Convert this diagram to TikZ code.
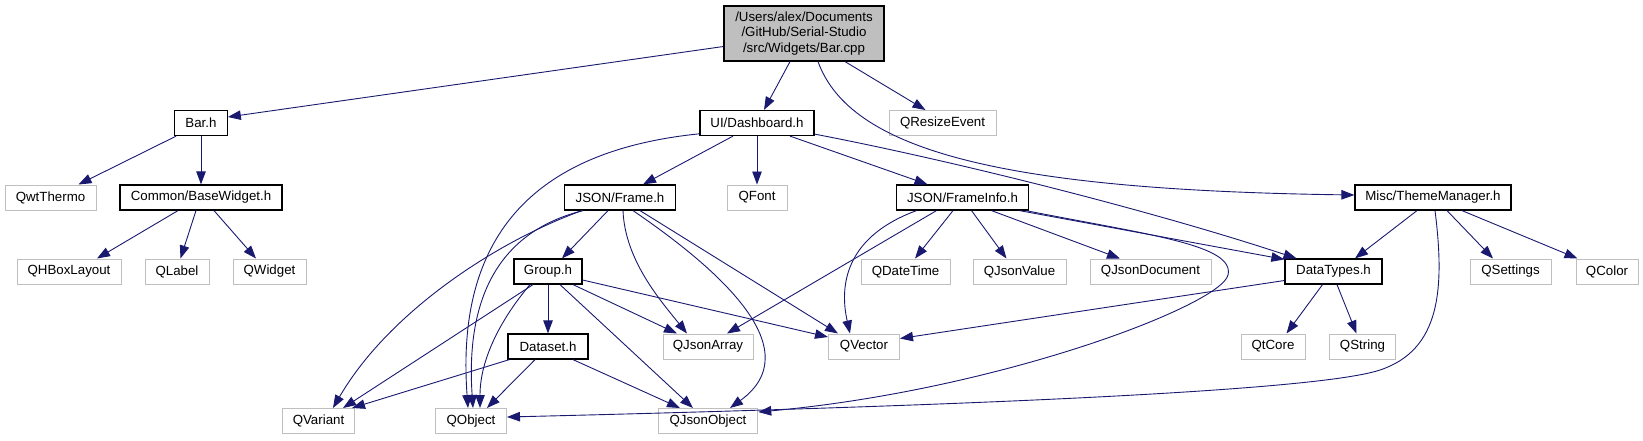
\documentclass[tikz,border=0pt]{standalone}
\usepackage{fontspec}
\setmainfont{Liberation Sans}
\usetikzlibrary{arrows.meta}
\definecolor{edgecol}{HTML}{191970}
\definecolor{grayb}{HTML}{BFBFBF}
\begin{document}
\begin{tikzpicture}[x=1pt,y=-1pt,
  every node/.style={font=\fontsize{13.3}{15.5}\selectfont, inner sep=0pt, minimum height=25pt, fill=white},
  blk/.style={draw=black, line width=1.2pt},
  gry/.style={draw=grayb, line width=1pt},
  mainbox/.style={draw=black, line width=1.2pt, fill=grayb, align=center, minimum height=55pt},
  edge/.style={draw=edgecol, line width=0.9pt, -{Triangle[length=13pt,width=9.5pt]}}]
\useasboundingbox (0,0) rectangle (1643,440);
% row 0
\node[mainbox, minimum width=160pt] (main) at (804,33.5) {/Users/alex/Documents\\/GitHub/Serial-Studio\\/src/Widgets/Bar.cpp};
% row 1
\node[blk, minimum width=52.5pt] (barh) at (201,123) {Bar.h};
\node[blk, minimum width=114pt] (dash) at (757,123) {UI/Dashboard.h};
\node[gry, minimum width=107pt] (qresize) at (942.5,123) {QResizeEvent};
% row 2
\node[gry, minimum width=91pt] (qwt) at (50.5,197.5) {QwtThermo};
\node[blk, minimum width=162pt] (basew) at (201,197.5) {Common/BaseWidget.h};
\node[blk, minimum width=111pt] (frame) at (620,197.5) {JSON/Frame.h};
\node[gry, minimum width=60pt] (qfont) at (757,197.5) {QFont};
\node[blk, minimum width=131.5pt] (finfo) at (962.5,197.5) {JSON/FrameInfo.h};
\node[blk, minimum width=156pt] (theme) at (1433,197.5) {Misc/ThemeManager.h};
% row 3
\node[gry, minimum width=104pt] (qhbox) at (69,271.5) {QHBoxLayout};
\node[gry, minimum width=64pt] (qlabel) at (177,271.5) {QLabel};
\node[gry, minimum width=73pt] (qwidget) at (269.5,271.5) {QWidget};
\node[blk, minimum width=68pt] (group) at (548,271.5) {Group.h};
\node[gry, minimum width=89pt] (qdatetime) at (905.5,271.5) {QDateTime};
\node[gry, minimum width=93pt] (qjsonvalue) at (1019.5,271.5) {QJsonValue};
\node[gry, minimum width=121pt] (qjsondoc) at (1150.5,271.5) {QJsonDocument};
\node[blk, minimum width=97pt] (datatypes) at (1333.5,271.5) {DataTypes.h};
\node[gry, minimum width=81pt] (qsettings) at (1510.5,271.5) {QSettings};
\node[gry, minimum width=62pt] (qcolor) at (1607,271.5) {QColor};
% row 4
\node[blk, minimum width=80pt] (dataset) at (548,346.5) {Dataset.h};
\node[gry, minimum width=90pt] (qjsonarray) at (708,346.5) {QJsonArray};
\node[gry, minimum width=71pt] (qvector) at (864,346.5) {QVector};
\node[gry, minimum width=64pt] (qtcore) at (1273,346.5) {QtCore};
\node[gry, minimum width=66.5pt] (qstring) at (1362.5,346.5) {QString};
% row 5
\node[gry, minimum width=72pt] (qvariant) at (318.5,421) {QVariant};
\node[gry, minimum width=71pt] (qobject) at (471,421) {QObject};
\node[gry, minimum width=99.5pt] (qjsonobject) at (708,421) {QJsonObject};

% edges from main
\draw[edge] ([yshift=-13pt]main.west) -- ([yshift=6pt]barh.east);
\draw[edge] ([xshift=-14pt]main.south) -- ([xshift=7pt]dash.north);
\draw[edge] ([xshift=41pt]main.south) -- ([xshift=-17pt]qresize.north);
\draw[edge] ([xshift=14pt]main.south) .. controls (850,150) and (1000,190) .. ([yshift=2.5pt]theme.west);
% Bar.h
\draw[edge] ([xshift=2pt]barh.south west) -- ([xshift=28pt]qwt.north);
\draw[edge] (barh.south) -- (basew.north);
% BaseWidget
\draw[edge] ([xshift=-23pt]basew.south) -- ([xshift=28pt]qhbox.north);
\draw[edge] ([xshift=-5pt]basew.south) -- ([xshift=3.5pt]qlabel.north);
\draw[edge] ([xshift=13pt]basew.south) -- ([xshift=-13.5pt]qwidget.north);
% Dashboard
\draw[edge] ([yshift=2.3pt]dash.south west) .. controls (540,150) and (455,230) .. ([xshift=-3pt]qobject.north);
\draw[edge] ([xshift=-24pt]dash.south) -- ([xshift=23pt]frame.north);
\draw[edge] (dash.south) -- (qfont.north);
\draw[edge] ([xshift=33pt]dash.south) -- ([xshift=-35pt]finfo.north);
\draw[edge] ([yshift=2pt]dash.south east) .. controls (950,160) and (1150,210) .. ([xshift=-37pt]datatypes.north);
% Frame
\draw[edge] ([xshift=-12pt]frame.south) -- ([xshift=14pt]group.north);
\draw[edge] ([xshift=-38pt]frame.south) .. controls (500,240) and (390,310) .. ([xshift=14.5pt]qvariant.north);
\draw[edge] ([xshift=-37pt]frame.south) .. controls (505,230) and (465,290) .. ([xshift=2pt]qobject.north);
\draw[edge] ([xshift=3pt]frame.south) .. controls (625,260) and (660,300) .. ([xshift=-21pt]qjsonarray.north);
\draw[edge] ([xshift=13pt]frame.south) .. controls (720,270) and (810,350) .. ([xshift=22pt]qjsonobject.north);
\draw[edge] ([xshift=20pt]frame.south) -- ([xshift=-26pt]qvector.north);
% Group
\draw[edge] (group.south) -- (dataset.north);
\draw[edge] ([xshift=-15pt]group.south) -- ([xshift=24.5pt]qvariant.north);
\draw[edge] ([xshift=-18pt]group.south) .. controls (500,320) and (480,360) .. ([xshift=9pt]qobject.north);
\draw[edge] ([xshift=25pt]group.south) -- ([xshift=-31pt]qjsonarray.north);
\draw[edge] ([yshift=-8.5pt]group.east) -- ([yshift=9.5pt]qvector.west);
\draw[edge] ([xshift=12pt]group.south) -- ([xshift=-15pt]qjsonobject.north);
% Dataset
\draw[edge] ([xshift=2pt]dataset.south west) -- ([xshift=-3pt]qvariant.north east);
\draw[edge] ([xshift=-13pt]dataset.south) -- ([xshift=16pt]qobject.north);
\draw[edge] ([xshift=25pt]dataset.south) -- ([xshift=-28pt]qjsonobject.north);
% FrameInfo
\draw[edge] ([xshift=-26pt]finfo.south) -- ([xshift=19pt]qjsonarray.north);
\draw[edge] ([xshift=-46pt]finfo.south) .. controls (850,235) and (838,280) .. ([xshift=-14pt]qvector.north);
\draw[edge] ([xshift=-9.5pt]finfo.south) -- ([xshift=9.5pt]qdatetime.north);
\draw[edge] ([xshift=9pt]finfo.south) -- ([xshift=-13pt]qjsonvalue.north);
\draw[edge] ([xshift=29pt]finfo.south) -- ([xshift=-30.5pt]qjsondoc.north);
\draw[edge] ([xshift=57pt]finfo.south) -- ([yshift=-1pt]datatypes.north west);
\draw[edge] ([xshift=-3pt]finfo.south east) .. controls (1150,235) and (1235,245) .. (1228,275)
  .. controls (1221,305) and (1000,390) .. ([yshift=9pt]qjsonobject.east);
% ThemeManager
\draw[edge] ([xshift=-16pt]theme.south) -- ([xshift=21.5pt]datatypes.north);
\draw[edge] ([xshift=2pt]theme.south) .. controls (1445,290) and (1440,350) .. (1380,370)
  .. controls (1320,390) and (1000,405) .. ([yshift=4pt]qobject.east);
\draw[edge] ([xshift=14pt]theme.south) -- ([xshift=-17.5pt]qsettings.north);
\draw[edge] ([xshift=29pt]theme.south) -- ([xshift=2pt]qcolor.north west);
% DataTypes
\draw[edge] ([yshift=-9pt]datatypes.west) -- ([yshift=8pt]qvector.east);
\draw[edge] ([xshift=-11pt]datatypes.south) -- ([xshift=13.5pt]qtcore.north);
\draw[edge] ([xshift=3.5pt]datatypes.south) -- ([xshift=-6pt]qstring.north);
\end{tikzpicture}
\end{document}
